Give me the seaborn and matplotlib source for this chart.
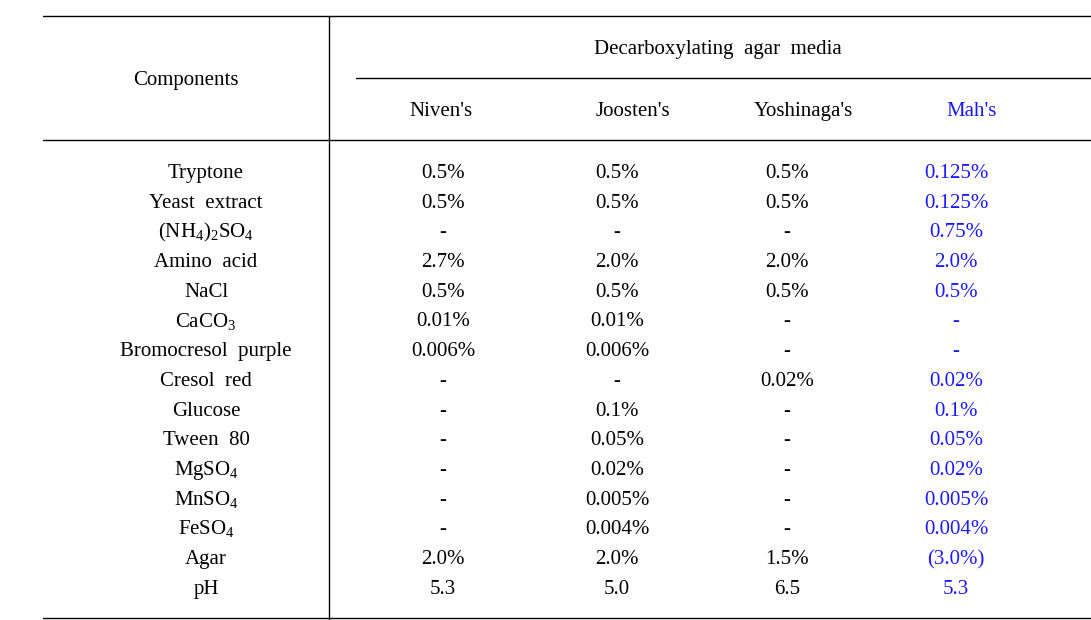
import seaborn as sns
import matplotlib.pyplot as plt

components = ['Tryptone', 'Yeast  extract', r'(NH$_4$)$_2$SO$_4$', 'Amino  acid', 'NaCl',
              r'CaCO$_3$', 'Bromocresol  purple', 'Cresol  red', 'Glucose', 'Tween  80',
              r'MgSO$_4$', r'MnSO$_4$', r'FeSO$_4$', 'Agar', 'pH']
media = ["Niven's", "Joosten's", "Yoshinaga's", "Mah's"]
niven = ['0.5%', '0.5%', '-', '2.7%', '0.5%', '0.01%', '0.006%', '-', '-', '-', '-', '-', '-', '2.0%', '5.3']
joosten = ['0.5%', '0.5%', '-', '2.0%', '0.5%', '0.01%', '0.006%', '-', '0.1%', '0.05%', '0.02%', '0.005%', '0.004%', '2.0%', '5.0']
yoshinaga = ['0.5%', '0.5%', '-', '2.0%', '0.5%', '-', '-', '0.02%', '-', '-', '-', '-', '-', '1.5%', '6.5']
mah = ['0.125%', '0.125%', '0.75%', '2.0%', '0.5%', '-', '-', '0.02%', '0.1%', '0.05%', '0.02%', '0.005%', '0.004%', '(3.0%)', '5.3']
columns = [niven, joosten, yoshinaga, mah]

sns.set_theme(style='white')
plt.rcParams['font.family'] = ['Liberation Serif', 'DejaVu Serif']
plt.rcParams['mathtext.fontset'] = 'custom'
plt.rcParams['mathtext.rm'] = 'Liberation Serif'
plt.rcParams['mathtext.it'] = 'Liberation Serif:italic'

fig = plt.figure(figsize=(10.91, 6.20), dpi=100)
ax = fig.add_axes([0, 0, 1, 1])
ax.set_xlim(0, 1091)
ax.set_ylim(620, 0)
ax.axis('off')

fs = 15
blue = '#1a1aff'

# rules
lw = 1.0
ax.plot([43, 1091], [15.5, 15.5], color='black', lw=lw)
ax.plot([356, 1091], [77.5, 77.5], color='black', lw=lw)
ax.plot([43, 1091], [139.5, 139.5], color='black', lw=lw)
ax.plot([43, 1091], [617.5, 617.5], color='black', lw=lw)
ax.plot([328.5, 328.5], [15.5, 620], color='black', lw=lw)

# headers
ax.text(186, 85, 'Components', ha='center', va='baseline', fontsize=fs, color='black')
ax.text(718, 54, 'Decarboxylating  agar  media', ha='center', va='baseline', fontsize=fs, color='black')
head_x = [441, 633, 803, 972]
for i, (name, hx) in enumerate(zip(media, head_x)):
    ax.text(hx, 116, name, ha='center', va='baseline', fontsize=fs,
            color=blue if i == 3 else 'black')

# body
col_x = [443, 617, 787, 956]
for r, comp in enumerate(components):
    y = 178 + r * 29.7
    ax.text(206, y, comp, ha='center', va='baseline', fontsize=fs, color='black')
    for c, (vals, cx) in enumerate(zip(columns, col_x)):
        ax.text(cx, y, vals[r], ha='center', va='baseline', fontsize=fs,
                color=blue if c == 3 else 'black')

fig.savefig('out.png', dpi=100)
